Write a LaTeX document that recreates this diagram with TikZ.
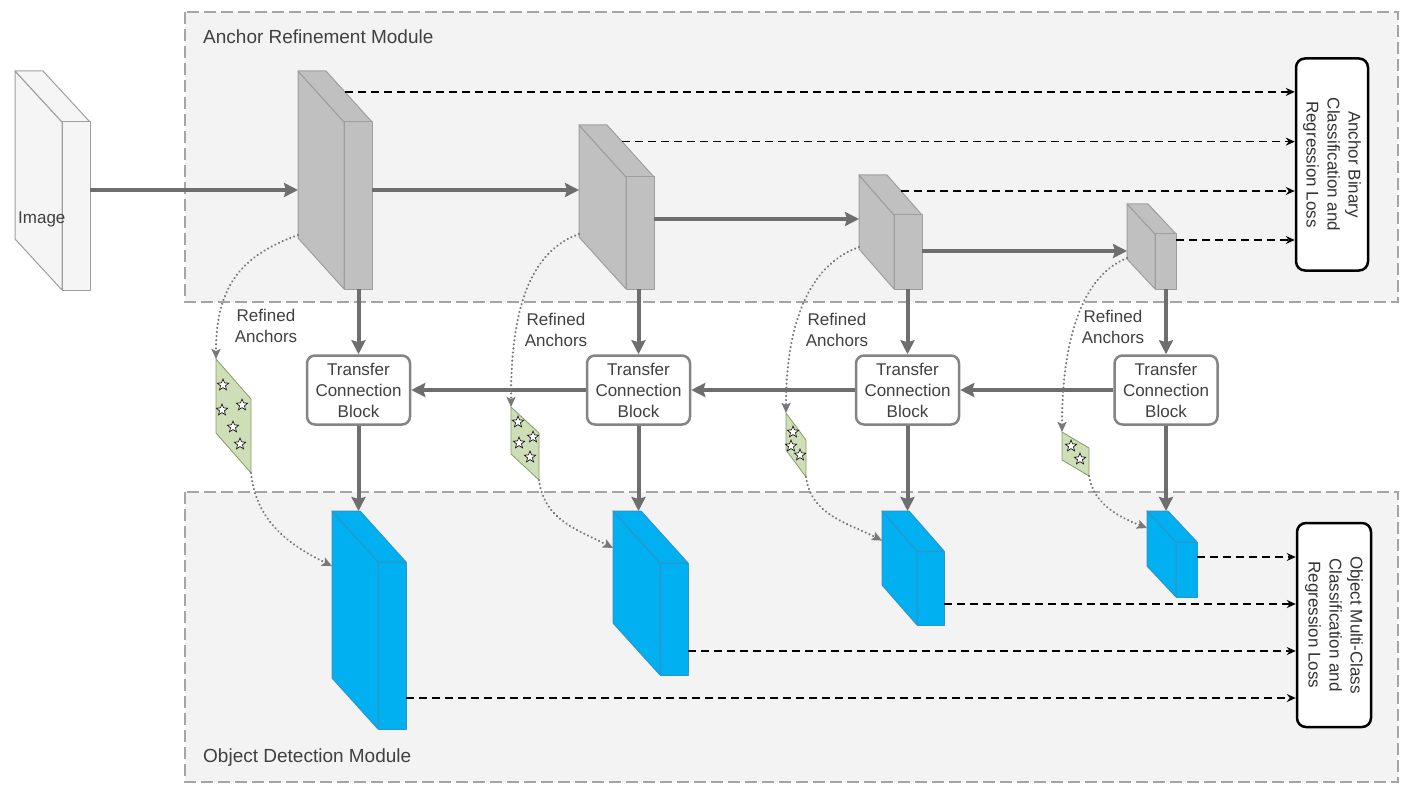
\documentclass[tikz,border=0pt]{standalone}
\usepackage{fontspec}
\setmainfont{Liberation Sans}
\usepackage{tikz}
\usetikzlibrary{arrows.meta, calc, shapes.geometric}

\definecolor{featgray}{RGB}{192, 192, 192}
\definecolor{featedge}{RGB}{158, 158, 158}
\definecolor{featblue}{RGB}{0, 176, 240}
\definecolor{blueedge}{RGB}{45, 150, 200}
\definecolor{imgfill}{RGB}{245, 245, 245}
\definecolor{anchorgreen}{RGB}{206, 222, 182}
\definecolor{greenedge}{RGB}{135, 155, 105}
\definecolor{flowgray}{RGB}{110, 110, 110}
\definecolor{dotgray}{RGB}{120, 120, 120}
\definecolor{modulefill}{RGB}{243, 243, 243}
\definecolor{moduleedge}{RGB}{165, 165, 165}
\definecolor{textgray}{RGB}{64, 64, 64}

\newcommand{\labelfont}{\fontsize{17}{21}\selectfont}
\newcommand{\modfont}{\fontsize{19}{23}\selectfont}

% feature map: back top-left corner, front width/height, depth offset
\newcommand{\cuboid}[8]{%
  \coordinate (#1-A) at (#2, #3);
  \coordinate (#1-B) at ($(#1-A)+(#4, 0)$);
  \coordinate (#1-D) at ($(#1-A)+(#6, #7)$);
  \coordinate (#1-C) at ($(#1-D)+(#4, 0)$);
  \coordinate (#1-E) at ($(#1-D)+(0, #5)$);
  \coordinate (#1-F) at ($(#1-C)+(0, #5)$);
  \coordinate (#1-G) at ($(#1-A)+(0, #5)$);
  \draw[#8] (#1-A) -- (#1-D) -- (#1-E) -- (#1-G) -- cycle;
  \draw[#8] (#1-A) -- (#1-B) -- (#1-C) -- (#1-D) -- cycle;
  \draw[#8] (#1-D) -- (#1-C) -- (#1-F) -- (#1-E) -- cycle;
}

% refined anchor patch: top-left corner, width, slant, height
\newcommand{\anchorpatch}[6]{%
  \coordinate (#1-a) at (#2, #3);
  \coordinate (#1-b) at ($(#1-a)+(#4, #5)$);
  \coordinate (#1-c) at ($(#1-b)+(0, #6)$);
  \coordinate (#1-d) at ($(#1-a)+(0, #6)$);
  \draw[patch] (#1-a) -- (#1-b) -- (#1-c) -- (#1-d) -- cycle;
}

\begin{document}
\begin{tikzpicture}[x=1pt, y=-1pt,
  every node/.style={font=\labelfont, text=textgray},
  module/.style={draw=moduleedge, fill=modulefill, line width=1.2pt, dash pattern=on 12pt off 5pt},
  grayface/.style={draw=featedge, fill=featgray, line width=1pt, line join=round},
  blueface/.style={draw=blueedge, fill=featblue, line width=1pt, line join=round},
  imgface/.style={draw=featedge, fill=imgfill, line width=1pt, line join=round},
  patch/.style={draw=greenedge, fill=anchorgreen, line width=0.8pt},
  anchorstar/.style={star, star points=5, star point ratio=2.3, minimum size=12pt, inner sep=0pt, draw=black, fill=white, line width=0.6pt},
  tcb/.style={draw=flowgray!85, fill=white, line width=2.5pt, rounded corners=8pt, minimum width=103pt, minimum height=69pt, inner sep=1pt, align=center},
  lossbox/.style={draw=black, fill=white, line width=2.5pt, rounded corners=9pt, rotate=-90, align=center, inner sep=1pt, text=black!80},
  mainarrow/.style={draw=flowgray, line width=4pt, -{Stealth[length=14pt, width=14pt, inset=2pt]}},
  lossarrow/.style={draw=black, line width=1.7pt, dash pattern=on 8pt off 5pt, -{Stealth[length=9pt, width=8pt, inset=3pt]}},
  anchorarrow/.style={draw=dotgray, line width=2.3pt, line cap=round, dash pattern=on 0.1pt off 4pt, -{Stealth[length=10pt, width=9pt, inset=2pt]}}
]
  \useasboundingbox (0, 0) rectangle (1412, 794);

  % Modules
  \draw[module] (185, 12) rectangle (1398, 302);
  \draw[module] (185, 492) rectangle (1398, 782);
  \node[anchor=west, inner sep=0pt, font=\modfont] (armlabel) at (203, 37) {Anchor Refinement Module};
  \node[anchor=west, inner sep=0pt, font=\modfont] (odmlabel) at (203, 758) {Object Detection Module};

  % Input image and feature maps
  \cuboid{img}{15}{71}{28}{168}{47}{51}{imgface}
  \node[anchor=west, inner sep=0pt] (imglabel) at (18, 219) {Image};

  \cuboid{g1}{298}{71}{28}{167}{46}{51}{grayface}
  \cuboid{g2}{579}{125}{28}{112}{47}{52}{grayface}
  \cuboid{g3}{859}{175}{28}{74}{35}{40}{grayface}
  \cuboid{g4}{1127}{204}{21}{55}{28}{30}{grayface}

  \cuboid{b1}{332}{511}{28}{167}{46}{51}{blueface}
  \cuboid{b2}{613}{511}{28}{112}{47}{52}{blueface}
  \cuboid{b3}{882}{511}{27}{74}{35}{40}{blueface}
  \cuboid{b4}{1147}{511}{21}{55}{29}{31}{blueface}

  % Loss boxes
  \node[lossbox, minimum width=212pt, minimum height=72pt] (ab) at (1332, 164.5) {Anchor Binary\\Classification and\\Regression Loss};
  \node[lossbox, minimum width=204pt, minimum height=74pt] (ob) at (1334, 625) {Object Multi-Class\\Classification and\\Regression Loss};

  % Transfer connection blocks
  \node[tcb] (tcb1) at (358.5, 390) {Transfer\\Connection\\Block};
  \node[tcb] (tcb2) at (638.5, 390) {Transfer\\Connection\\Block};
  \node[tcb] (tcb3) at (907.5, 390) {Transfer\\Connection\\Block};
  \node[tcb] (tcb4) at (1166, 390) {Transfer\\Connection\\Block};

  % Refined anchors
  \anchorpatch{ra1}{216}{359}{35}{40}{74}
  \anchorpatch{ra2}{511}{407}{28}{26}{47}
  \anchorpatch{ra3}{786}{413}{20}{27}{37}
  \anchorpatch{ra4}{1062}{432}{27}{16}{28}
  \foreach \p [count=\i] in {(223,385), (222,410), (242,405), (233,427), (240,444),
      (518,422), (533,437), (519,443), (530,457),
      (793,432), (791,446), (800,455),
      (1071,446), (1080,459)}
    \node[anchorstar] (star\i) at \p {};

  \node[align=center] (lab1) at (266, 326) {Refined\\Anchors};
  \node[align=center] (lab2) at (556, 330) {Refined\\Anchors};
  \node[align=center] (lab3) at (837, 330) {Refined\\Anchors};
  \node[align=center] (lab4) at (1113, 327) {Refined\\Anchors};

  % Backbone flow
  \draw[mainarrow] (img-C |- 0,190) -- (g1-A |- 0,190);
  \draw[mainarrow] (g1-C |- 0,190) -- (g2-A |- 0,190);
  \draw[mainarrow] (g2-C |- 0,219) -- (g3-A |- 0,219);
  \draw[mainarrow] (g3-C |- 0,251) -- (g4-A |- 0,251);

  \foreach \k in {1, 2, 3, 4} {
    \draw[mainarrow] (tcb\k.north |- g\k-E) -- (tcb\k.north);
    \draw[mainarrow] (tcb\k.south) -- (tcb\k.south |- b\k-A);
  }
  \draw[mainarrow] (tcb2.west) -- (tcb1.east);
  \draw[mainarrow] (tcb3.west) -- (tcb2.east);
  \draw[mainarrow] (tcb4.west) -- (tcb3.east);

  % Losses
  \draw[lossarrow] ($(g1-B)!0.41!(g1-C)$) coordinate (l1) -- (l1 -| ab.south);
  \draw[lossarrow] ($(g2-B)!0.32!(g2-C)$) coordinate (l2) -- (l2 -| ab.south);
  \draw[lossarrow] ($(g3-B)!0.40!(g3-C)$) coordinate (l3) -- (l3 -| ab.south);
  \draw[lossarrow] (g4-C |- 0,240) -- (ab.south |- 0,240);

  \draw[lossarrow] (b4-C |- 0,557) -- (ob.south |- 0,557);
  \draw[lossarrow] (b3-C |- 0,604) -- (ob.south |- 0,604);
  \draw[lossarrow] (b2-C |- 0,651) -- (ob.south |- 0,651);
  \draw[lossarrow] (b1-C |- 0,698) -- (ob.south |- 0,698);

  % Anchor refinement paths
  \draw[anchorarrow] ($(g1-G)+(0,-3)$) .. controls +(-55,20) and +(0,-75) .. (ra1-a);
  \draw[anchorarrow] ($(g2-G)+(0,-3)$) .. controls +(-55,20) and +(0,-85) .. (ra2-a);
  \draw[anchorarrow] ($(g3-G)+(0,-2)$) .. controls +(-55,20) and +(0,-80) .. (ra3-a);
  \draw[anchorarrow] ($(g4-G)+(0,-1)$) .. controls +(-50,20) and +(0,-80) .. (ra4-a);

  \draw[anchorarrow] (ra1-c) .. controls +(5,50) and +(-40,-20) .. ($(b1-A)!0.33!(b1-G)$);
  \draw[anchorarrow] (ra2-c) .. controls +(5,40) and +(-35,-18) .. ($(b2-A)!0.33!(b2-G)$);
  \draw[anchorarrow] (ra3-c) .. controls +(5,38) and +(-35,-18) .. ($(b3-A)!0.40!(b3-G)$);
  \draw[anchorarrow] (ra4-c) .. controls +(5,30) and +(-25,-10) .. ($(b4-A)!0.31!(b4-G)$);
\end{tikzpicture}
\end{document}
